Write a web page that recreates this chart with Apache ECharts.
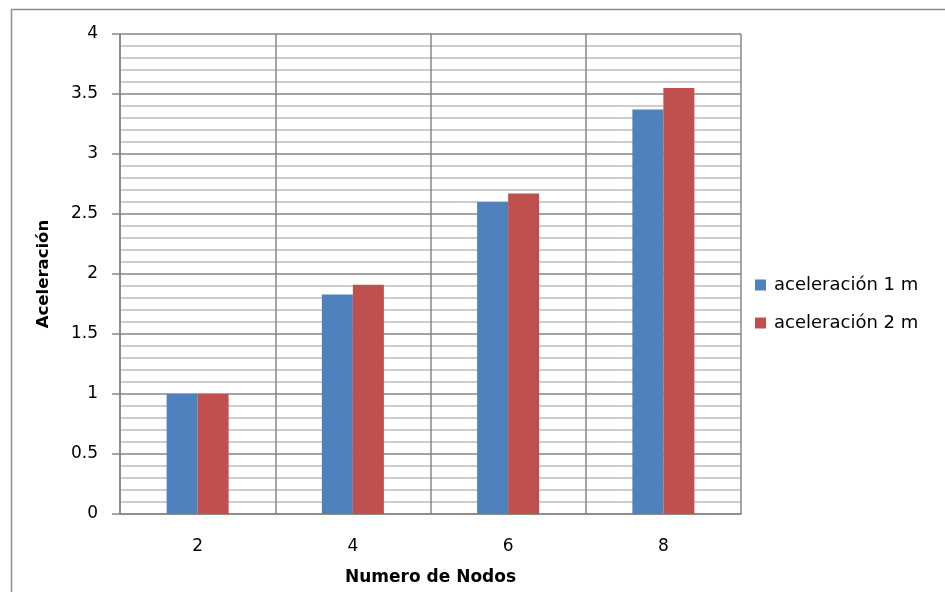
<!DOCTYPE html>
<html>
<head>
<meta charset="utf-8">
<script src="https://cdn.jsdelivr.net/npm/echarts@6/dist/echarts.min.js"></script>
<style>html,body{margin:0;padding:0;background:#fff}#c{width:945px;height:592px}</style>
</head>
<body>
<div id="c"></div>
<script>
const categories = ['2', '4', '6', '8'];
const series1Name = 'aceleración 1 m';
const series2Name = 'aceleración 2 m';
const series1 = [1.0, 1.83, 2.60, 3.37];
const series2 = [1.0, 1.91, 2.67, 3.55];
const yTicks = [0, 0.5, 1, 1.5, 2, 2.5, 3, 3.5, 4];

const chart = echarts.init(document.getElementById('c'), null, {renderer: 'canvas'});
const font = '"DejaVu Sans", sans-serif';
chart.setOption({
  animation: false,
  backgroundColor: '#fff',
  graphic: [{
    type: 'rect', shape: {x: 11.5, y: 9.5, width: 1000, height: 700},
    style: {fill: 'none', stroke: '#8c8c8c', lineWidth: 1.5}, silent: true, z: -10
  }],
  grid: {left: 120, top: 34, right: 204, bottom: 78, show: false},
  legend: {
    orient: 'vertical', left: 750, top: 271, itemWidth: 11, itemHeight: 11, itemGap: 20,
    icon: 'rect',
    textStyle: {fontFamily: font, fontSize: 18, color: '#000', padding: [0, 0, 0, 3]},
    data: [series1Name, series2Name]
  },
  xAxis: {
    type: 'category', data: categories, boundaryGap: true,
    name: 'Numero de Nodos', nameLocation: 'middle', nameGap: 55,
    nameTextStyle: {fontFamily: font, fontSize: 17, fontWeight: 'bold', color: '#000'},
    axisLine: {show: true, lineStyle: {color: '#868686', width: 1.5}},
    axisTick: {show: false},
    axisLabel: {fontFamily: font, fontSize: 17, color: '#000', margin: 24},
    splitLine: {show: true, lineStyle: {color: '#868686', width: 1.5}}
  },
  yAxis: {
    type: 'value', min: 0, max: 4, interval: 0.5,
    name: 'Aceleración', nameLocation: 'middle', nameGap: 68,
    nameTextStyle: {fontFamily: font, fontSize: 16.5, fontWeight: 'bold', color: '#000'},
    axisLine: {show: true, lineStyle: {color: '#868686', width: 1.5}},
    axisTick: {show: true, length: 8, lineStyle: {color: '#868686', width: 1.5}},
    axisLabel: {fontFamily: font, fontSize: 17, color: '#000', margin: 22,
      formatter: v => yTicks.includes(v) ? String(v) : ''},
    splitLine: {show: true, lineStyle: {color: '#868686', width: 1.5}},
    minorTick: {show: false, splitNumber: 5},
    minorSplitLine: {show: true, lineStyle: {color: '#bdbdbd', width: 1.5}}
  },
  series: [
    {name: series1Name, type: 'bar', data: series1, barWidth: 31, barGap: '0%',
     itemStyle: {color: '#4F81BD'}},
    {name: series2Name, type: 'bar', data: series2, barWidth: 31, barGap: '0%',
     itemStyle: {color: '#C0504D'}}
  ]
});
</script>
</body>
</html>
